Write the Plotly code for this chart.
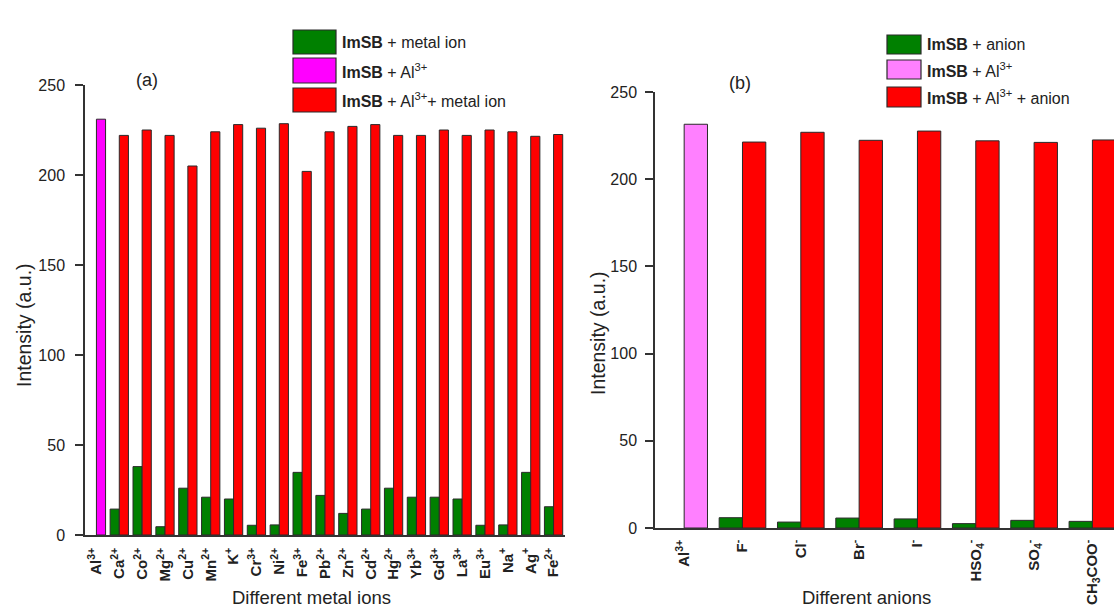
import plotly.graph_objects as go

W, H = 1114, 610

# ---------------- data: panel (a) metal ions ----------------
al_cat = "Al3+"
al_label = "Al<sup>3+</sup>"
metal_ions = ["Ca2+", "Co2+", "Mg2+", "Cu2+", "Mn2+", "K+", "Cr3+", "Ni2+", "Fe3+", "Pb2+",
              "Zn2+", "Cd2+", "Hg2+", "Yb3+", "Gd3+", "La3+", "Eu3+", "Na+", "Ag+", "Fe2+"]
metal_labels = ["Ca<sup>2+</sup>", "Co<sup>2+</sup>", "Mg<sup>2+</sup>", "Cu<sup>2+</sup>",
                "Mn<sup>2+</sup>", "K<sup>+</sup>", "Cr<sup>3+</sup>", "Ni<sup>2+</sup>",
                "Fe<sup>3+</sup>", "Pb<sup>2+</sup>", "Zn<sup>2+</sup>", "Cd<sup>2+</sup>",
                "Hg<sup>2+</sup>", "Yb<sup>3+</sup>", "Gd<sup>3+</sup>", "La<sup>3+</sup>",
                "Eu<sup>3+</sup>", "Na<sup>+</sup>", "Ag<sup>+</sup>", "Fe<sup>2+</sup>"]
imsb_metal = [14.4, 38, 4.6, 26, 21, 20, 5.4, 5.6, 34.8, 22,
              12, 14.4, 26, 21, 21, 20, 5.4, 5.6, 34.8, 15.7]
imsb_al_metal = [222, 225, 222, 205, 224, 228, 226, 228.5, 202, 224,
                 227, 228, 222, 222, 225, 222, 225, 224, 221.5, 222.5]
imsb_al_a = [231]

# ---------------- data: panel (b) anions ----------------
anions = ["F-", "Cl-", "Br-", "I-", "HSO4-", "SO4-", "CH3COO-"]
anion_labels = ["F<sup>-</sup>", "Cl<sup>-</sup>", "Br<sup>-</sup>", "I<sup>-</sup>",
                "HSO<sub>4</sub><sup>-</sup>", "SO<sub>4</sub><sup>-</sup>",
                "CH<sub>3</sub>COO<sup>-</sup>"]
imsb_anion = [5.9, 3.4, 5.7, 5.2, 2.5, 4.4, 3.8]
imsb_al_anion = [221.3, 226.9, 222.3, 227.6, 222, 221.1, 222.5]
imsb_al_b = [231.5]

y_ticks = [0, 50, 100, 150, 200, 250]

GREEN = "#008000"
MAGENTA = "#FF00FF"
PINK = "#FF80FF"
RED = "#FF0000"
EDGE = "#2a2a2a"
TXT = "#222222"
FONT = "Arial"

BW = 0.4

fig = go.Figure()

def bar(x, y, color, name, offset, xa, ya):
    return go.Bar(x=x, y=y, name=name, offset=offset, width=BW,
                  marker=dict(color=color, line=dict(color=EDGE, width=1)),
                  xaxis=xa, yaxis=ya, showlegend=False)

# panel (a)
fig.add_trace(bar(metal_ions, imsb_metal, GREEN, "ImSB + metal ion", -BW, "x", "y"))
fig.add_trace(bar([al_cat], imsb_al_a, MAGENTA, "ImSB + Al3+", 0, "x", "y"))
fig.add_trace(bar(metal_ions, imsb_al_metal, RED, "ImSB + Al3+ + metal ion", 0, "x", "y"))
# panel (b)
fig.add_trace(bar(anions, imsb_anion, GREEN, "ImSB + anion", -BW, "x2", "y2"))
fig.add_trace(bar([al_cat], imsb_al_b, PINK, "ImSB + Al3+", 0, "x2", "y2"))
fig.add_trace(bar(anions, imsb_al_anion, RED, "ImSB + Al3+ + anion", 0, "x2", "y2"))

def px_x(x):
    return x / W

def px_y(y):
    return 1 - y / H

cats_a = [al_cat] + metal_ions
cats_b = [al_cat] + anions

xcommon = dict(type="category", showline=True, linecolor="#333333", linewidth=1.5,
               ticks="", showgrid=False, zeroline=False, tickangle=-90,
               ticklabelstandoff=5, automargin=False,
               tickfont=dict(family=FONT, size=15, color=TXT, weight="bold"))
ycommon = dict(range=[0, 250], tickvals=y_ticks, showline=True, linecolor="#333333",
               linewidth=1.5, ticks="outside", ticklen=8, tickwidth=1.5, tickcolor="#333333",
               showgrid=False, zeroline=False, ticklabelstandoff=7, automargin=False,
               tickfont=dict(family=FONT, size=16, color=TXT))

fig.update_layout(
    width=W, height=H, autosize=False,
    margin=dict(l=0, r=0, t=0, b=0, pad=0),
    paper_bgcolor="white", plot_bgcolor="white",
    barmode="overlay",
    xaxis=dict(xcommon, domain=[px_x(85), px_x(565)], anchor="y",
               categoryorder="array", categoryarray=cats_a, range=[-0.5, 20.5],
               tickvals=cats_a, ticktext=[al_label] + metal_labels),
    yaxis=dict(ycommon, domain=[px_y(535), px_y(85)], anchor="x"),
    xaxis2=dict(xcommon, domain=[px_x(655), 1.0], anchor="y2",
                categoryorder="array", categoryarray=cats_b, range=[-0.5, 7.37],
                tickvals=cats_b, ticktext=[al_label] + anion_labels,
                ticklabelstandoff=4,
                tickfont=dict(family=FONT, size=15, color=TXT, weight="bold")),
    yaxis2=dict(ycommon, domain=[px_y(528), px_y(92)], anchor="x2", ticklabelstandoff=5),
)

ann = []
def text(x, y, s, size, angle=0, xanchor="center"):
    ann.append(dict(x=px_x(x), y=px_y(y), xref="paper", yref="paper", text=s,
                    showarrow=False, textangle=angle, xanchor=xanchor, yanchor="middle",
                    font=dict(family=FONT, size=size, color=TXT)))

# axis titles
text(24, 325, "Intensity (a.u.)", 19.5, angle=-90)
text(598, 333, "Intensity (a.u.)", 19.5, angle=-90)
text(311, 597, "Different metal ions", 18.5)
text(866, 597, "Different anions", 18.5)
# panel labels
text(147, 80, "(a)", 18)
text(740, 83, "(b)", 18)

# custom legends (large swatches as in the original)
shapes = []
def legend_item(x0, x1, y0, y1, color, label, tx, size):
    shapes.append(dict(type="rect", xref="paper", yref="paper",
                       x0=px_x(x0), x1=px_x(x1), y0=px_y(y1), y1=px_y(y0),
                       fillcolor=color, line=dict(color=EDGE, width=1.2)))
    text(tx, (y0 + y1) / 2, label, size, xanchor="left")

legend_item(293, 336, 30, 54, GREEN, "<b>ImSB</b> + metal ion", 340, 16)
legend_item(293, 336, 58, 83, MAGENTA, "<b>ImSB</b> + Al<sup>3+</sup>", 340, 16)
legend_item(293, 336, 88, 112, RED, "<b>ImSB</b> + Al<sup>3+</sup>+ metal ion", 340, 16)

legend_item(887, 921, 35, 54, GREEN, "<b>ImSB</b> + anion", 925, 16)
legend_item(887, 921, 60, 79, PINK, "<b>ImSB</b> + Al<sup>3+</sup>", 925, 16)
legend_item(887, 921, 87, 107, RED, "<b>ImSB</b> + Al<sup>3+</sup> + anion", 925, 16)

fig.update_layout(annotations=ann, shapes=shapes)

fig.write_html("out.html",
               post_script="document.body.style.margin='0';document.body.style.overflow='hidden';")
